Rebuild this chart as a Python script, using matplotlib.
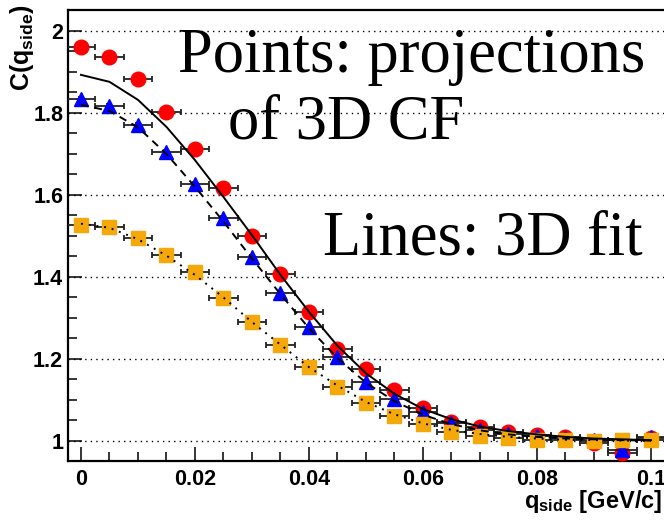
import matplotlib
matplotlib.use('Agg')
import matplotlib.pyplot as plt
from matplotlib.ticker import MultipleLocator

plt.rcParams['font.family'] = 'Liberation Sans'
plt.rcParams['mathtext.fontset'] = 'custom'
plt.rcParams['mathtext.rm'] = 'Liberation Sans:bold'
plt.rcParams['mathtext.bf'] = 'Liberation Sans:bold'

# q_side bin centres [GeV/c]
q = [0.000, 0.005, 0.010, 0.015, 0.020, 0.025, 0.030, 0.035, 0.040, 0.045, 0.050,
     0.055, 0.060, 0.065, 0.070, 0.075, 0.080, 0.085, 0.090, 0.095, 0.100]
q_half = 0.0025

# projections of the 3D correlation function
cf_red = [1.960, 1.937, 1.883, 1.802, 1.712, 1.617, 1.500, 1.408, 1.315, 1.224, 1.176,
          1.124, 1.080, 1.046, 1.034, 1.022, 1.015, 1.010, 0.995, 0.971, 1.007]
cf_blue = [1.834, 1.817, 1.771, 1.705, 1.627, 1.544, 1.449, 1.361, 1.278, 1.205, 1.144,
           1.102, 1.071, 1.044, 1.027, 1.018, 1.012, 1.008, 1.003, 0.978, 1.010]
cf_orange = [1.527, 1.522, 1.495, 1.454, 1.412, 1.349, 1.289, 1.233, 1.180, 1.132, 1.093,
             1.061, 1.041, 1.022, 1.012, 1.007, 1.002, 1.002, 1.000, 1.002, 1.002]
err_red = [0.004, 0.004, 0.004, 0.004, 0.004, 0.004, 0.004, 0.004, 0.004, 0.004, 0.004,
           0.004, 0.004, 0.005, 0.005, 0.005, 0.006, 0.006, 0.007, 0.008, 0.008]
err_blue = [0.004, 0.004, 0.004, 0.004, 0.004, 0.004, 0.004, 0.004, 0.004, 0.004, 0.004,
            0.004, 0.004, 0.005, 0.005, 0.005, 0.006, 0.006, 0.007, 0.008, 0.008]
err_orange = [0.004, 0.004, 0.004, 0.004, 0.004, 0.004, 0.004, 0.004, 0.004, 0.004, 0.004,
              0.004, 0.004, 0.005, 0.005, 0.005, 0.006, 0.006, 0.007, 0.008, 0.008]

# 3D fit evaluated in the same bins
fit_red = [1.893, 1.876, 1.832, 1.766, 1.685, 1.595, 1.502, 1.405, 1.315, 1.232, 1.165,
           1.115, 1.078, 1.053, 1.035, 1.024, 1.016, 1.010, 1.006, 1.004, 1.002]
fit_blue = [1.820, 1.805, 1.765, 1.700, 1.620, 1.535, 1.445, 1.358, 1.275, 1.202, 1.142,
            1.097, 1.064, 1.041, 1.026, 1.016, 1.010, 1.006, 1.004, 1.002, 1.001]
fit_orange = [1.530, 1.520, 1.492, 1.452, 1.405, 1.350, 1.290, 1.235, 1.180, 1.135, 1.095,
              1.065, 1.043, 1.027, 1.017, 1.010, 1.006, 1.003, 1.002, 1.001, 1.000]

fig = plt.figure(figsize=(6.64, 5.21), dpi=100)
ax = fig.add_axes([0.1024, 0.1152, 0.9367, 0.8656])

ax.set_xlim(-0.00228, 0.10684)
ax.set_ylim(0.9512, 2.0512)

for yv in [1.0, 1.2, 1.4, 1.6, 1.8, 2.0]:
    ax.axhline(yv, color='black', lw=1.0, ls=(0, (1, 3)), zorder=1)

ax.errorbar(q, cf_red, xerr=q_half, yerr=err_red, fmt='o', ms=10.5, mfc='red', mec='red',
            ecolor='#222222', elinewidth=1.3, capsize=2.5, capthick=1.3, zorder=3)
ax.errorbar(q, cf_blue, xerr=q_half, yerr=err_blue, fmt='^', ms=10.5, mfc='blue', mec='blue',
            ecolor='#222222', elinewidth=1.3, capsize=2.5, capthick=1.3, zorder=4)
ax.errorbar(q, cf_orange, xerr=q_half, yerr=err_orange, fmt='s', ms=10, mfc='#f5a80a', mec='#f5a80a',
            ecolor='#222222', elinewidth=1.3, capsize=2.5, capthick=1.3, zorder=5)

ax.plot(q, fit_red, color='black', lw=1.4, ls='-', zorder=6)
ax.plot(q, fit_blue, color='black', lw=1.4, ls=(0, (4, 3)), zorder=6)
ax.plot(q, fit_orange, color='black', lw=1.4, ls=(0, (1, 3)), zorder=6)

ax.xaxis.set_major_locator(MultipleLocator(0.02))
ax.xaxis.set_minor_locator(MultipleLocator(0.005))
ax.yaxis.set_major_locator(MultipleLocator(0.2))
ax.yaxis.set_minor_locator(MultipleLocator(0.05))
ax.set_xticks([0, 0.02, 0.04, 0.06, 0.08, 0.1])
ax.set_xticklabels(['0', '0.02', '0.04', '0.06', '0.08', '0.1'])
ax.set_yticks([1.0, 1.2, 1.4, 1.6, 1.8, 2.0])
ax.set_yticklabels(['1', '1.2', '1.4', '1.6', '1.8', '2'])
ax.tick_params(which='both', direction='in', width=1.1, top=False, right=False)
ax.tick_params(which='major', length=10)
ax.tick_params(which='minor', length=6.5)
ax.tick_params(axis='x', pad=6, labelsize=15.5)
ax.tick_params(axis='y', pad=3.5, labelsize=15.5)
for lab in ax.get_xticklabels() + ax.get_yticklabels():
    lab.set_fontweight('bold')

for side in ['left', 'bottom', 'top']:
    ax.spines[side].set_linewidth(1.6)
ax.spines['right'].set_visible(False)

fig.text(0.033, 0.992, r'$\mathbf{C(q_{side})}$', rotation=90, ha='center', va='top', fontsize=18)
fig.text(0.997, 0.024, r'$\mathbf{q_{side}}$ [GeV/c]', ha='right', va='baseline', fontsize=17,
         fontweight='bold')

fig.text(0.268, 0.862, 'Points: projections', family='Liberation Serif', fontsize=45, va='baseline')
fig.text(0.343, 0.735, 'of 3D CF', family='Liberation Serif', fontsize=45, va='baseline')
fig.text(0.486, 0.511, 'Lines: 3D fit', family='Liberation Serif', fontsize=45, va='baseline')

fig.savefig('out.png', dpi=100)
